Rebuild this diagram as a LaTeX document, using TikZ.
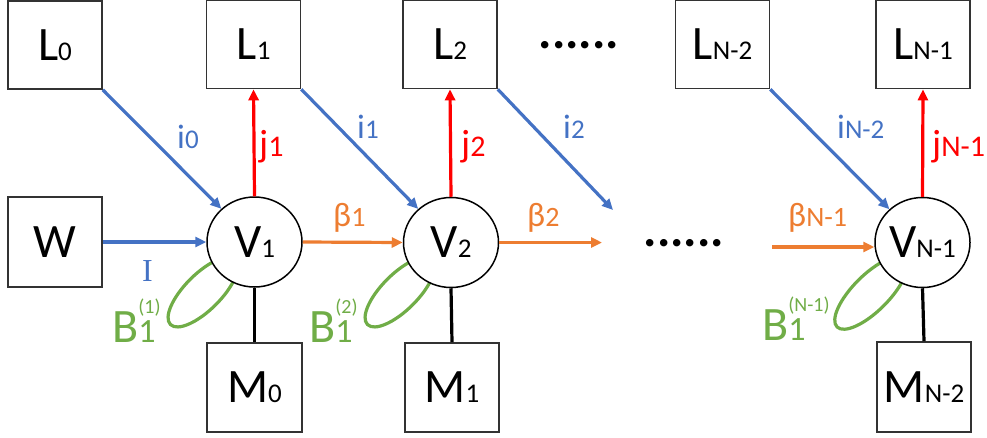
\documentclass[tikz,border=0pt]{standalone}
\usepackage{fontspec}
\setmainfont{Carlito}
\newfontfamily\serifI{Liberation Serif}
\usetikzlibrary{arrows.meta,shapes.geometric,backgrounds}
\definecolor{cblue}{HTML}{4472C4}
\definecolor{cred}{HTML}{FF0000}
\definecolor{corange}{HTML}{ED7D31}
\definecolor{cgreen}{HTML}{70AD47}
\definecolor{boxgray}{HTML}{333333}
\newcommand\fs[1]{\fontsize{#1}{#1}\selectfont}
\newcommand\smi[1]{{\fs{27}#1}}
\newcommand\lsub[1]{{\fs{27}#1}}
\newcommand\jsub[1]{{\fs{30}#1}}
\newcommand\bsub[1]{{\fs{28}#1}}
\newcommand\Blab[2]{B\makebox[0pt][l]{\raisebox{29pt}{\fs{20}(#2)}}{\fs{34}#1}}
\begin{document}
\begin{tikzpicture}[x=1pt,y=-1pt,
  box/.style={draw=boxgray,line width=1.6pt,fill=white,minimum width=94pt,minimum height=88pt,inner sep=0pt,font=\fs{48}},
  vert/.style={ellipse,draw=black,line width=1.5pt,fill=white,minimum width=95pt,minimum height=90pt,inner sep=0pt,font=\fs{48}},
  arr/.style={line width=3.2pt,-{Triangle[length=11pt,width=10pt]}},
  iarr/.style={arr,draw=cblue},
  jarr/.style={arr,draw=cred},
  barr/.style={arr,draw=corange},
  mline/.style={line width=3.2pt,draw=black},
  loopst/.style={line width=3.2pt,draw=cgreen},
  ilab/.style={anchor=base west,text=cblue,font=\fs{34},inner sep=0pt},
  jlab/.style={anchor=base west,text=cred,font=\fs{38},inner sep=0pt},
  blab/.style={anchor=base west,text=corange,font=\fs{34},inner sep=0pt},
  Blabst/.style={anchor=base west,text=cgreen,font=\fs{48},inner sep=0pt},
  dotst/.style={anchor=base,font=\fs{50}\bfseries,inner sep=0pt}]
\useasboundingbox (0,0) rectangle (987,437);
% boxes
\node[box] (L0) at (55,45) {L\lsub{0}};
\node[box] (L1) at (253.5,44.5) {L\lsub{1}};
\node[box] (L2) at (450,44.5) {L\lsub{2}};
\node[box] (LN2) at (722.5,44.5) {L\lsub{N-2}};
\node[box] (LN1) at (923,44.5) {L\lsub{N-1}};
\node[box,minimum height=90pt] (W) at (55,242) {W};
\node[box,minimum height=89pt,minimum width=95pt] (M0) at (254.5,387.5) {M\lsub{0}};
\node[box,minimum height=89pt] (M1) at (452,387.5) {M\lsub{1}};
\node[box,minimum height=90pt] (MN2) at (924,387) {M\lsub{N-2}};
% vertices
\node[vert] (V1) at (254.5,242) {V\lsub{1}};
\node[vert] (V2) at (451,242.5) {V\lsub{2}};
\node[vert] (VN1) at (922.5,242.5) {V\lsub{N-1}};
% self loops
\begin{scope}[on background layer]
\draw[loopst,rotate around={45:(203,292)}] (203,292) ellipse [x radius=46pt, y radius=18pt];
\draw[loopst,rotate around={45:(400,292)}] (400,292) ellipse [x radius=46pt, y radius=18pt];
\draw[loopst,rotate around={45:(871,293)}] (871,293) ellipse [x radius=48pt, y radius=18pt];
\end{scope}
% free ends
\coordinate (i2end) at (613,210);
\coordinate (b2end) at (602,242.5);
\coordinate (bNstart) at (772,247);
% connectors
\draw[iarr] (L0.south east) -- (V1);
\draw[iarr] (L1.south east) -- (V2);
\draw[iarr] (L2.south east) -- (i2end);
\draw[iarr] (LN2.south east) -- (VN1);
\draw[iarr] (W.east) -- (V1.west);
\draw[jarr] (V1.north) -- (L1.south);
\draw[jarr] (V2.north) -- (L2.south);
\draw[jarr] (VN1.north) -- (LN1.south);
\draw[barr] (V1.east) -- (V2.west);
\draw[barr] (V2.east) -- (b2end);
\draw[barr] (bNstart) -- (bNstart -| VN1.west);
\draw[mline] (V1.south) -- (M0.north);
\draw[mline] (V2.south) -- (M1.north);
\draw[mline] (VN1.south) -- (MN2.north);
% labels
\node[ilab] (li0) at (177,148) {i\smi{0}};
\node[ilab] (li1) at (357,138) {i\smi{1}};
\node[ilab] (li2) at (563,138) {i\smi{2}};
\node[ilab] (liN2) at (837,138) {i\smi{N-2}};
\node[jlab] (lj1) at (259,156) {j\jsub{1}};
\node[jlab] (lj2) at (461,156) {j\jsub{2}};
\node[jlab] (ljN1) at (932,156) {j\jsub{N-1}};
\node[blab] (lb1) at (333,226) {β\bsub{1}};
\node[blab] (lb2) at (527,226) {β\bsub{2}};
\node[blab] (lbN1) at (788,226) {β\bsub{N-1}};
\node[text=cblue,font=\serifI\fs{32},inner sep=0pt] (lI) at (147.5,271) {I};
\node[Blabst] (lB1) at (112,342) {\Blab{1}{1}};
\node[Blabst] (lB2) at (309,342) {\Blab{1}{2}};
\node[Blabst] (lBN1) at (762,340) {\Blab{1}{N-1}};
% dots
\node[dotst] (dtop) at (579,48) {......};
\node[dotst] (dmid) at (684,246) {......};
\end{tikzpicture}
\end{document}
